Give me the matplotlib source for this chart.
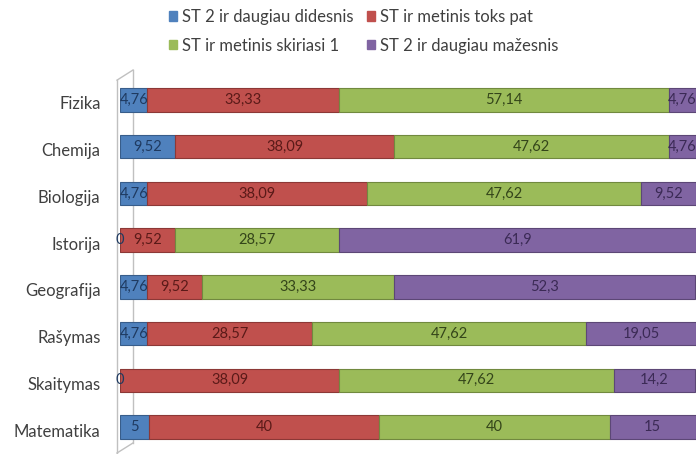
import matplotlib.pyplot as plt
from matplotlib.patches import Patch
import matplotlib.transforms as mtransforms

plt.rcParams['font.family'] = ['Lato', 'DejaVu Sans']

categories = ["Fizika", "Chemija", "Biologija", "Istorija",
              "Geografija", "Rašymas", "Skaitymas", "Matematika"]
series_names = ["ST 2 ir daugiau didesnis", "ST ir metinis toks pat",
                "ST ir metinis skiriasi 1", "ST 2 ir daugiau mažesnis"]
didesnis = [4.76, 9.52, 4.76, 0, 4.76, 4.76, 0, 5]
toks_pat = [33.33, 38.09, 38.09, 9.52, 9.52, 28.57, 38.09, 40]
skiriasi = [57.14, 47.62, 47.62, 28.57, 33.33, 47.62, 47.62, 40]
mazesnis = [4.76, 4.76, 9.52, 61.9, 52.3, 19.05, 14.2, 15]

colors = ["#4F81BD", "#C0504D", "#9BBB59", "#8064A2"]
edges = ["#385D8A", "#8C3836", "#71893F", "#5C4776"]
text_colors = ["#1F3A60", "#5A1A18", "#34451A", "#3B2A55"]

fig = plt.figure(figsize=(6.97, 4.54), dpi=100)
ax = fig.add_axes([120 / 697, 1 - 453 / 454, 576 / 697, 383 / 454])

data = [didesnis, toks_pat, skiriasi, mazesnis]
ypos = list(range(len(categories)))
left = [0.0] * len(categories)
for k, vals in enumerate(data):
    ax.barh(ypos, vals, left=left, height=0.5, color=colors[k],
            edgecolor=edges[k], linewidth=0.8, zorder=3)
    for i, v in enumerate(vals):
        label = f"{v:g}".replace('.', ',')
        ax.text(left[i] + v / 2, ypos[i], label, ha='center', va='center',
                fontsize=10.5, color=text_colors[k], zorder=4)
    left = [a + b for a, b in zip(left, vals)]

ax.set_xlim(0, 100)
ax.set_ylim(7.555, -0.641)
ax.set_yticks(ypos)
ax.set_yticklabels(categories, fontsize=12, color="#404040")
ax.tick_params(axis='y', length=0, pad=14)
shift = mtransforms.ScaledTranslation(0, -3 / 100, fig.dpi_scale_trans)
for lab in ax.get_yticklabels():
    lab.set_transform(lab.get_transform() + shift)
ax.set_xticks([])
for s in ax.spines.values():
    s.set_visible(False)

# 3D-look wall lines (front and back edge)
wall = "#C0C0C0"
ax.plot([2.26, 2.26], [7.34, -0.641], color=wall, lw=1, zorder=1, clip_on=False)
ax.plot([-0.52, -0.52], [7.555, -0.424], color=wall, lw=1, zorder=1, clip_on=False)
ax.plot([-0.52, 2.26], [-0.424, -0.641], color=wall, lw=1, zorder=1, clip_on=False)
ax.plot([-0.52, 2.26], [7.555, 7.34], color=wall, lw=1, zorder=1, clip_on=False)

handles = [Patch(color=colors[k]) for k in range(4)]
order = [0, 2, 1, 3]
fig.legend([handles[k] for k in order], [series_names[k] for k in order],
           ncol=2, loc='upper center', bbox_to_anchor=(0.522, 1.013),
           frameon=False, fontsize=12, handlelength=0.5, handleheight=0.5,
           handletextpad=0.3, columnspacing=0.8, labelspacing=0.75,
           labelcolor="#404040")

fig.savefig("out.png", dpi=100)
